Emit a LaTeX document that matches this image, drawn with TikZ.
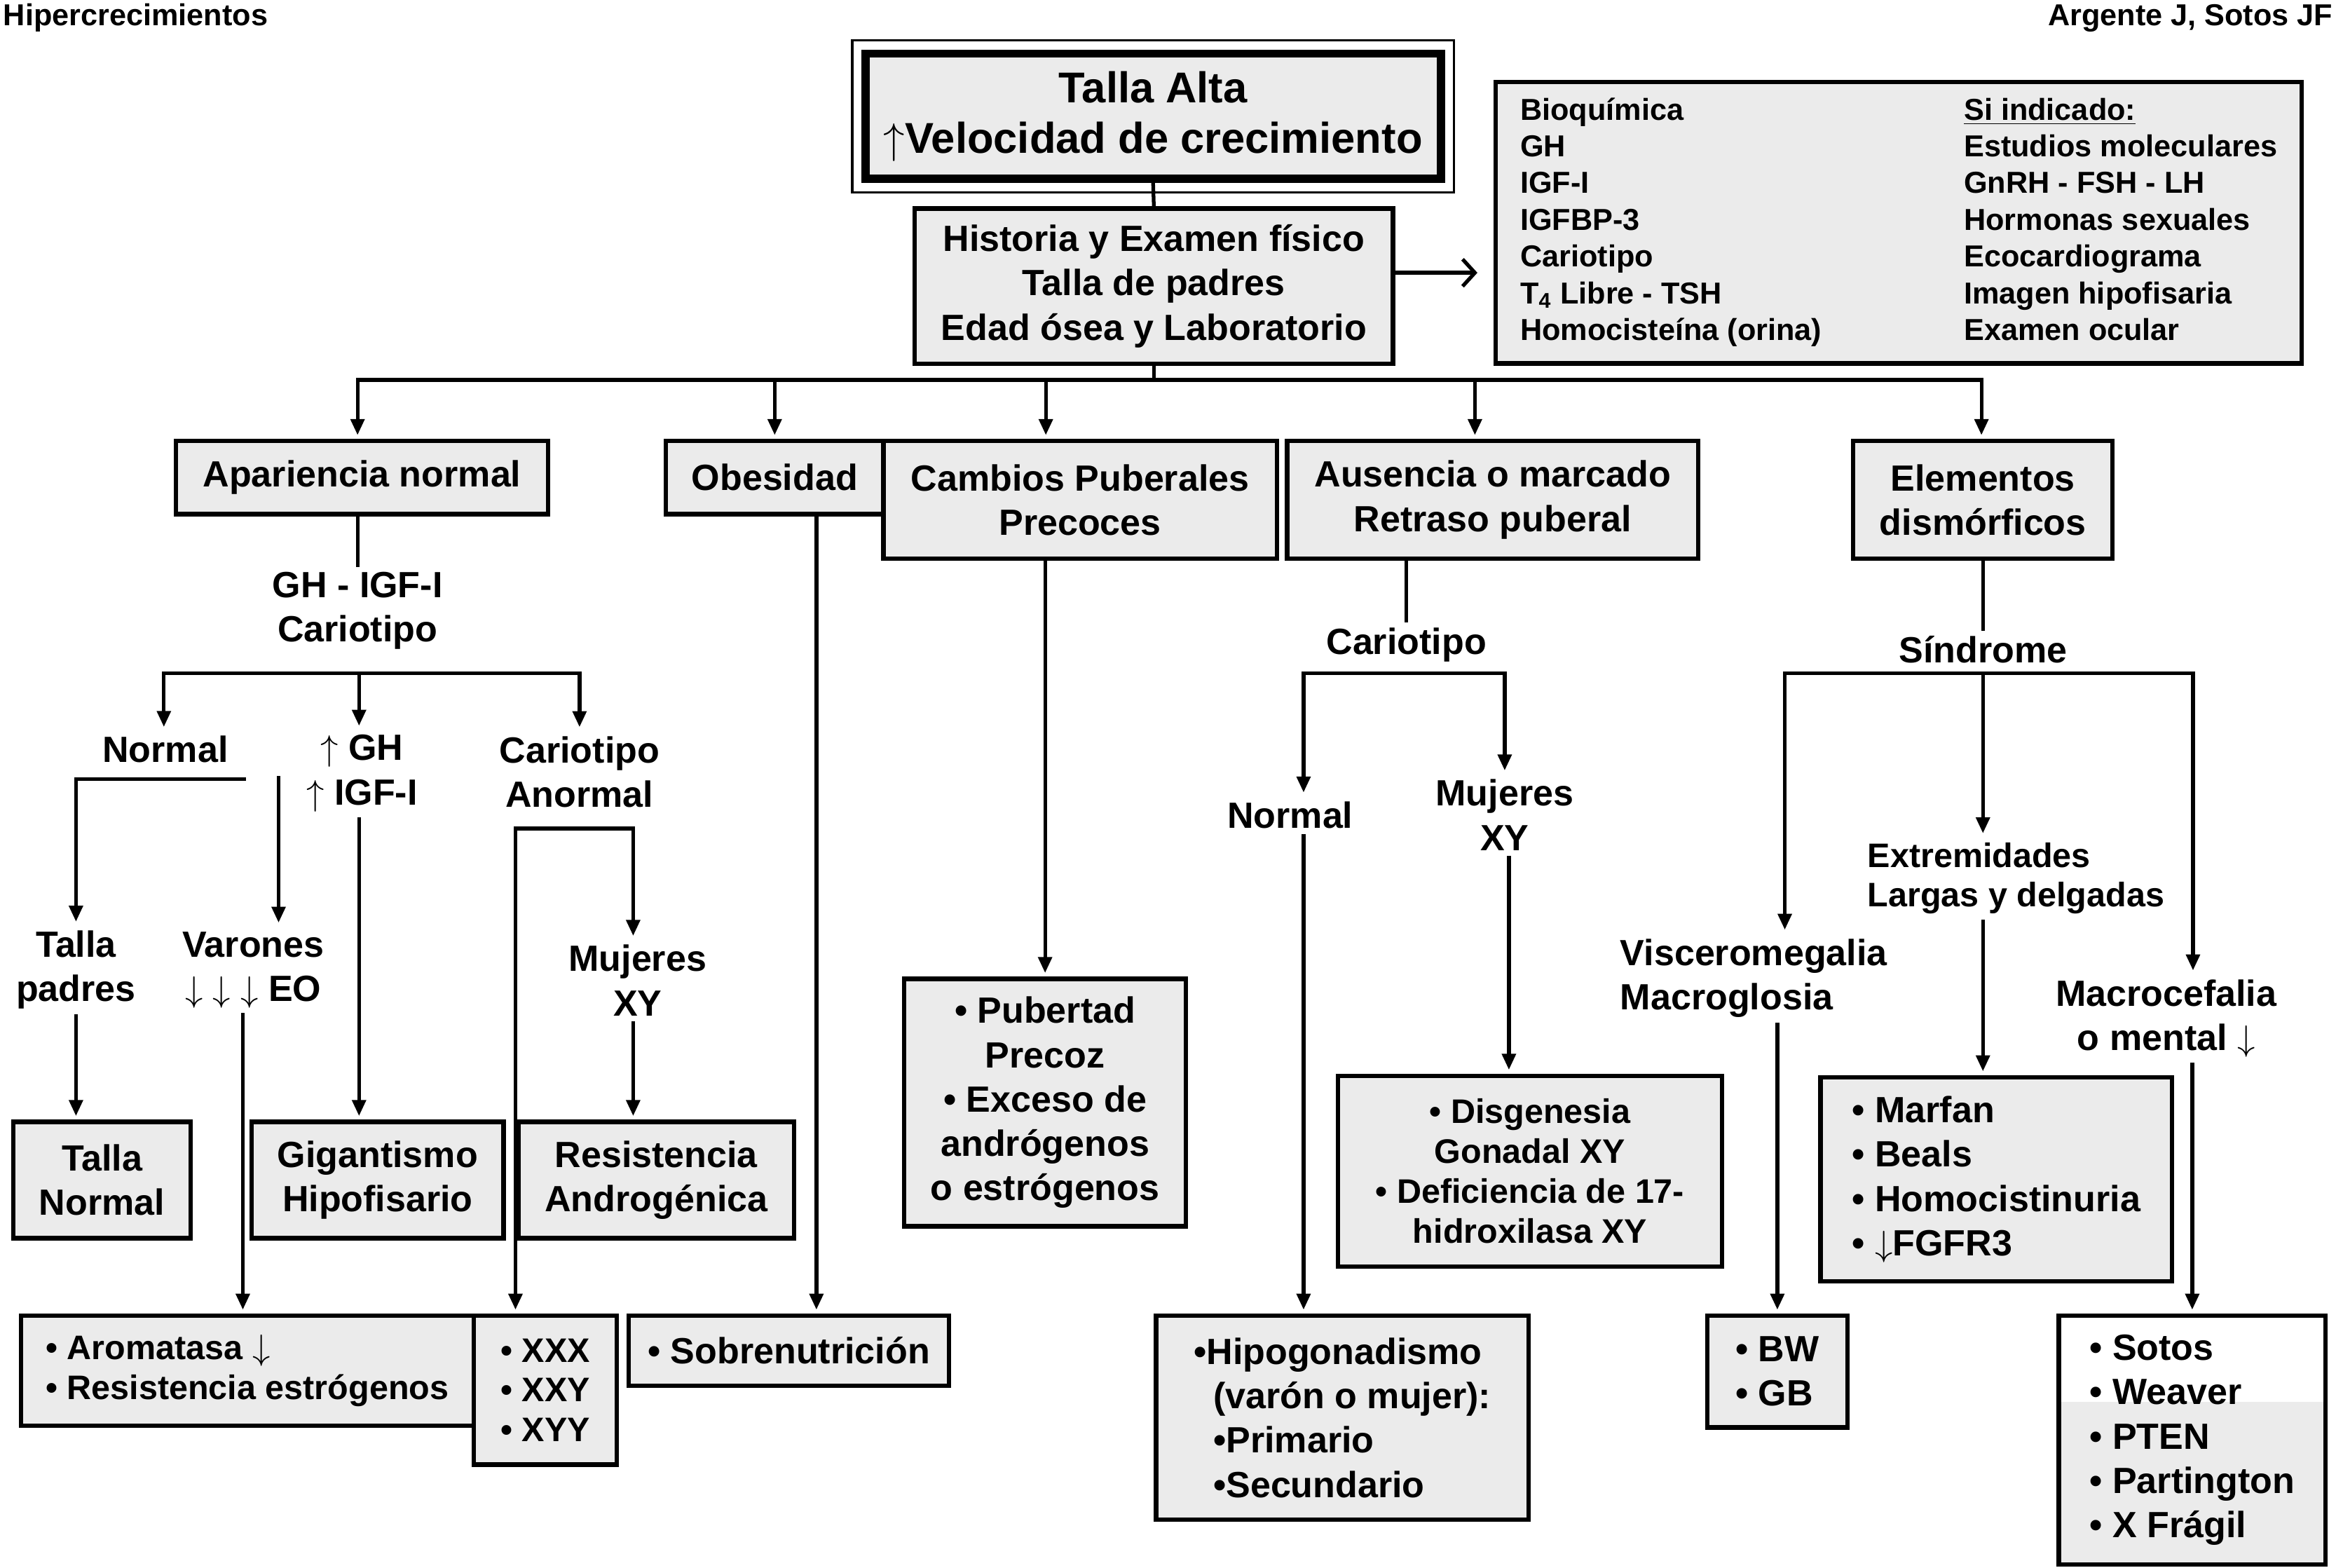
\documentclass[tikz,border=0pt]{standalone}
\usepackage{fontspec}
\setmainfont{Liberation Sans}
\usetikzlibrary{arrows.meta}
\definecolor{boxgray}{RGB}{235,235,235}
\newcommand{\mainsize}{\fontsize{14.8pt}{18pt}\selectfont}
\newcommand{\listsize}{\fontsize{13.8pt}{16.2pt}\selectfont}
\newcommand{\smallsize}{\fontsize{12.3pt}{14.9pt}\selectfont}
\newcommand{\titlesize}{\fontsize{17.5pt}{20.5pt}\selectfont}

\begin{document}
\begin{tikzpicture}[x=0.021256cm, y=-0.021256cm,
  box/.style={draw, line width=1.8pt, fill=boxgray, align=center, inner sep=2pt, font=\bfseries\mainsize},
  lbl/.style={align=center, inner sep=2pt, font=\bfseries\mainsize},
  link/.style={line width=1.5pt},
  arr/.style={link, -{Triangle[length=6.5pt,width=5.5pt]}, shorten >=1.5pt},
  twoarr/.style={link, {Triangle[length=6.5pt,width=5.5pt]}-{Triangle[length=6.5pt,width=5.5pt]}, shorten >=1.5pt, shorten <=1.5pt}]
  \useasboundingbox (0,0) rectangle (1568,1052);

  % header
  \node[anchor=west, inner sep=0, font=\bfseries\smallsize] (hdrl) at (2,12) {Hipercrecimientos};
  \node[anchor=east, inner sep=0, font=\bfseries\smallsize] (hdrr) at (1566,12) {Argente J, Sotos JF};

  % top
  \node[box, line width=3.4pt, font=\bfseries\titlesize, minimum width=8.205cm, minimum height=1.786cm] (title) at (774,78) {Talla Alta\\$\uparrow$Velocidad de crecimiento};
  \draw[line width=0.9pt] ([shift={(-0.13cm,0.13cm)}]title.north west) rectangle ([shift={(0.13cm,-0.13cm)}]title.south east);
  \node[box, minimum width=6.823cm, minimum height=2.211cm] (hist) at (774.5,192) {Historia y Examen físico\\Talla de padres\\Edad ósea y Laboratorio};
  \node[box, font=\bfseries\smallsize, minimum width=11.5cm, minimum height=4.017cm] (bioq) at (1274.5,149.5) {%
    \begin{tabular}{@{}p{6.33cm}@{}l@{}}
      Bioquímica & \underline{Si indicado:}\\
      GH & Estudios moleculares\\
      IGF-I & GnRH - FSH - LH\\
      IGFBP-3 & Hormonas sexuales\\
      Cariotipo & Ecocardiograma\\
      T\textsubscript{4} Libre - TSH & Imagen hipofisaria\\
      Homocisteína (orina) & Examen ocular
    \end{tabular}};
  \draw[line width=1.5pt] (title.south) -- (hist.north);
  \draw[link, -{Straight Barb[length=5pt,width=11pt]}, shorten >=0.23cm] ([yshift=0.19cm]hist.east) -- ([yshift=0.19cm]hist.east -| bioq.west);

  % first row
  \node[box, minimum width=5.314cm, minimum height=1.042cm] (apar) at (243,320.5) {Apariencia normal};
  \node[box, minimum width=3.103cm, minimum height=1.042cm] (obes) at (520,320.5) {Obesidad};
  \node[box, minimum width=5.612cm, minimum height=1.679cm] (camb) at (725,335.5) {Cambios Puberales\\Precoces};
  \node[box, minimum width=5.867cm, minimum height=1.679cm] (ausen) at (1002,335.5) {Ausencia o marcado\\Retraso puberal};
  \node[box, minimum width=3.699cm, minimum height=1.679cm] (elem) at (1331,335.5) {Elementos\\dismórficos};

  \coordinate (b1) at (240,255);
  \coordinate (b2) at (520,255);
  \coordinate (b3) at (702,255);
  \coordinate (b4) at (990,255);
  \coordinate (b5) at (1330,255);
  \draw[link] (hist.south) -- (hist.south |- b1);
  \draw[twoarr] (b1 |- apar.north) -- (b1) -- (b5) -- (b5 |- elem.north);
  \foreach \b/\t in {b2/obes, b3/camb, b4/ausen}
    \draw[arr] (\b) -- (\b |- \t.north);

  % apariencia normal
  \node[lbl] (gh) at (240,410) {GH - IGF-I\\Cariotipo};
  \node[lbl] (normA) at (111,503) {Normal};
  \node[lbl] (ghup) at (243,519) {$\uparrow$ GH\\$\uparrow$ IGF-I};
  \node[lbl] (carA) at (389,518) {Cariotipo\\Anormal};
  \node[lbl] (tpad) at (51,651) {Talla\\padres};
  \node[lbl] (varo) at (170,651) {Varones\\$\downarrow\;\downarrow\;\downarrow$ EO};
  \node[lbl] (mujA) at (428,658) {Mujeres\\XY};
  \node[box, minimum width=2.529cm, minimum height=1.658cm] (tnor) at (68.5,792) {Talla\\Normal};
  \node[box, minimum width=3.592cm, minimum height=1.658cm] (giga) at (253.5,792) {Gigantismo\\Hipofisario};
  \node[box, minimum width=3.932cm, minimum height=1.658cm] (resi) at (440.5,792) {Resistencia\\Androgénica};
  \node[box, align=left, font=\bfseries\listsize, minimum width=6.462cm, minimum height=1.573cm] (arom) at (166,920) {• Aromatasa $\downarrow$\\• Resistencia estrógenos};
  \node[box, align=left, font=\bfseries\listsize, minimum width=2.041cm, minimum height=2.126cm] (xxx) at (366,933) {• XXX\\• XXY\\• XYY};

  \coordinate (aL) at (110,452);
  \coordinate (aM) at (241,452);
  \coordinate (aR) at (389,452);
  \draw[link] (apar.south -| gh.north) -- (gh.north);
  \draw[twoarr] (aL |- normA.north) -- (aL) -- (aR) -- (aR |- carA.north);
  \draw[arr] (aM) -- (aM |- ghup.north);
  \coordinate (nA) at (165,523);
  \coordinate (vA) at (187,521);
  \draw[arr] (nA) -| (tpad.north);
  \draw[arr] (vA) -- (vA |- varo.north);
  \draw[arr] (tpad.south) -- (tpad.south |- tnor.north);
  \coordinate (vB) at (163,680);
  \draw[arr] (vB) -- (vB |- arom.north);
  \draw[arr] (ghup.south -| aM) -- (aM |- giga.north);
  \coordinate (cA) at (346,556);
  \coordinate (cB) at (425,556);
  \draw[twoarr] (cA |- xxx.north) -- (cA) -- (cB) -- (cB |- mujA.north);
  \draw[arr] (cB |- mujA.south) -- (cB |- resi.north);

  % obesidad
  \node[box, minimum width=4.57cm, minimum height=0.999cm] (sobr) at (529.5,906.5) {• Sobrenutrición};
  \coordinate (oA) at (548,345);
  \draw[arr] (oA) -- (oA |- sobr.north);

  % cambios puberales
  \node[box, minimum width=4.017cm, minimum height=3.528cm] (pube) at (701.5,740) {• Pubertad\\Precoz\\• Exceso de\\andrógenos\\o estrógenos};
  \draw[arr] (camb.south -| pube.north) -- (pube.north);

  % retraso puberal
  \node[lbl] (carB) at (944,433) {Cariotipo};
  \node[lbl] (normB) at (866,547) {Normal};
  \node[lbl] (mujB) at (1010,547) {Mujeres\\XY};
  \node[box, font=\bfseries\listsize, minimum width=5.484cm, minimum height=2.721cm] (disg) at (1027,786) {• Disgenesia\\Gonadal XY\\• Deficiencia de 17-\\hidroxilasa XY};
  \node[box, align=left, minimum width=5.314cm, minimum height=2.912cm] (hipo) at (901,951.5) {•Hipogonadismo\\\hspace*{0.28cm}(varón o mujer):\\\hspace*{0.28cm}•Primario\\\hspace*{0.28cm}•Secundario};
  \coordinate (dL) at (875,452);
  \coordinate (dR) at (1010,452);
  \draw[link] (ausen.south -| carB.north) -- (carB.north);
  \draw[twoarr] (dL |- normB.north) -- (dL) -- (dR) -- (dR |- mujB.north);
  \draw[arr] (dL |- normB.south) -- (dL |- hipo.north);
  \draw[arr] ([xshift=0.06cm]mujB.south) -- ([xshift=0.06cm]mujB.south |- disg.north);

  % elementos dismorficos
  \node[lbl] (sind) at (1331,436) {Síndrome};
  \node[lbl, align=left, anchor=west, font=\bfseries\listsize] (extr) at (1250,589.5) {Extremidades\\Largas y delgadas};
  \node[lbl, align=left, anchor=west] (visc) at (1084,656.5) {Visceromegalia\\Macroglosia};
  \node[lbl] (macr) at (1454,683.5) {Macrocefalia\\o mental $\downarrow$};
  \node[box, align=left, minimum width=5.016cm, minimum height=2.912cm] (marf) at (1340,791.5) {• Marfan\\• Beals\\• Homocistinuria\\• $\downarrow$FGFR3};
  \node[box, align=left, minimum width=1.998cm, minimum height=1.594cm] (bw) at (1193,920.5) {• BW\\• GB};
  \node[box, align=left, fill=white, minimum width=3.805cm, minimum height=3.55cm,
    path picture={\fill[boxgray] (path picture bounding box.south west) rectangle ([yshift=0.54cm]path picture bounding box.east);}] (soto) at (1471.5,966.5) {• Sotos\\• Weaver\\• PTEN\\• Partington\\• X Frágil};
  \coordinate (eL) at (1198,452);
  \coordinate (eM) at (1331,452);
  \coordinate (eR) at (1472,452);
  \draw[link] (elem.south) -- (sind.north);
  \draw[twoarr] (eL |- visc.north) -- (eL) -- (eR) -- (eR |- macr.north);
  \draw[arr] (eM) -- (eM |- extr.north);
  \draw[arr] (eM |- extr.south) -- (eM |- marf.north);
  \draw[arr] (bw.north |- visc.south) -- (bw.north);
  \draw[arr] (macr.south -| soto.north) -- (soto.north);
\end{tikzpicture}
\end{document}
